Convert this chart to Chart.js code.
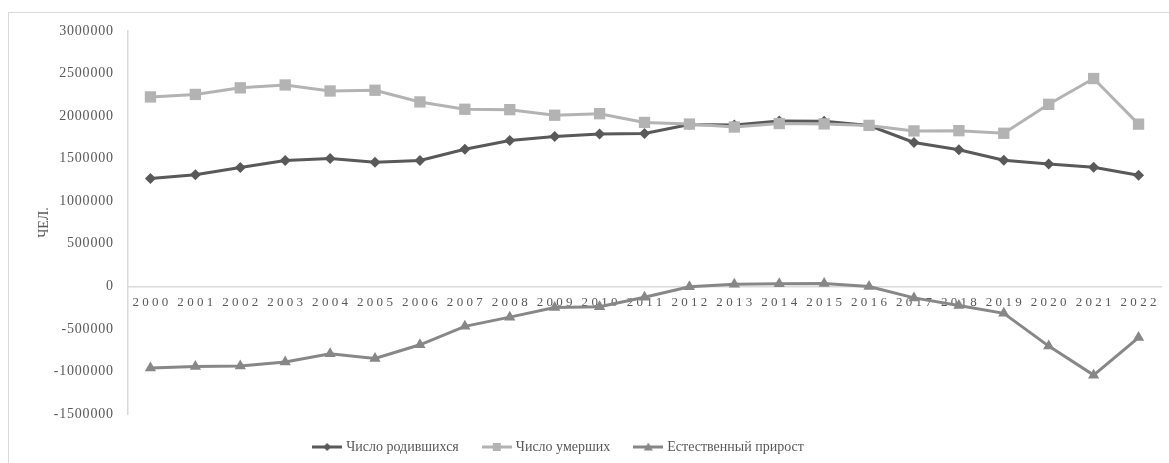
<!DOCTYPE html>
<html>
<head>
<meta charset="utf-8">
<script src="https://cdn.jsdelivr.net/npm/chart.js@4.4.1/dist/chart.umd.min.js"></script>
<style>
  html, body { margin: 0; padding: 0; background: #fff; }
  #wrap { position: relative; width: 1169px; height: 463px; overflow: hidden; }
  #frame { position: absolute; left: 8px; top: 12px; width: 1200px; height: 500px; border: 1px solid #d9d9d9; box-sizing: border-box; }
  #box { position: absolute; left: 0; top: 0; width: 1169px; height: 463px; }
</style>
</head>
<body>
<div id="wrap">
  <div id="frame"></div>
  <div id="box"><canvas id="demoChart"></canvas></div>
</div>
<script>
// Годы
const years = ['2000', '2001', '2002', '2003', '2004', '2005', '2006', '2007', '2008', '2009', '2010', '2011',
               '2012', '2013', '2014', '2015', '2016', '2017', '2018', '2019', '2020', '2021', '2022'];

// Число родившихся, чел.
const births = [1266800, 1311604, 1396967, 1477301, 1502477, 1457376, 1479637, 1610122, 1713947, 1761687, 1788948, 1796629,
                1902084, 1895822, 1942683, 1940579, 1888729, 1690307, 1604344, 1481074, 1436514, 1398253, 1304087];

// Число умерших, чел.
const deaths = [2225332, 2254856, 2332272, 2365826, 2295402, 2303935, 2166703, 2080445, 2075954, 2010543, 2028516, 1925720,
                1906335, 1871809, 1912347, 1908541, 1891015, 1826125, 1828910, 1798307, 2138586, 2441594, 1905800];

// Естественный прирост, чел.
const growth = [-958532, -943252, -935305, -888525, -792925, -846559, -687066, -470323, -362007, -248856, -239568, -129091,
                -4251, 24013, 30336, 32038, -2286, -135818, -224566, -317233, -702072, -1043341, -601713];

const yTicks = [-1500000, -1000000, -500000, 0, 500000, 1000000, 1500000, 2000000, 2500000, 3000000];

const FONT = "'Liberation Serif', 'Times New Roman', serif";
const TEXT = '#595959';

// small canvas used as a legend icon: a line with the marker in the middle
function legendIcon(color, shape) {
    const c = document.createElement('canvas');
    c.width = 30;
    c.height = 14;
    const g = c.getContext('2d');
    g.strokeStyle = color;
    g.fillStyle = color;
    g.lineWidth = 3;
    g.beginPath();
    g.moveTo(0, 7);
    g.lineTo(30, 7);
    g.stroke();
    g.beginPath();
    if (shape === 'diamond') {
        g.moveTo(15, 3); g.lineTo(19, 7); g.lineTo(15, 11); g.lineTo(11, 7);
    } else if (shape === 'square') {
        g.rect(11, 3, 8, 8);
    } else {
        g.moveTo(15, 2.5); g.lineTo(19.5, 10.5); g.lineTo(10.5, 10.5);
    }
    g.closePath();
    g.fill();
    return c;
}

const icons = [
    legendIcon('#595959', 'diamond'),
    legendIcon('#b3b3b3', 'square'),
    legendIcon('#878787', 'triangle')
];

// letter spacing for tick labels (the original is drawn with spread digits)
function spaceLabels(scale, spacing, shift) {
    if (scale._spaced) return;
    const orig = scale.drawLabels;
    scale.drawLabels = function (area) {
        const ctx = this.ctx;
        ctx.save();
        ctx.letterSpacing = spacing;
        ctx.translate(shift, 0);
        orig.call(this, area);
        ctx.restore();
    };
    scale._spaced = true;
}

const spacedTicks = {
    id: 'spacedTicks',
    beforeDraw(chart) {
        spaceLabels(chart.scales.x, '3.3px', 1.6);
        spaceLabels(chart.scales.y, '0.8px', 0.8);
        // legend in the original sits a bit left of centre
        if (!chart.legend._moved) {
            chart.legend.right -= 74;
            chart.legend._moved = true;
        }
    }
};

const ctx = document.getElementById('demoChart').getContext('2d');

new Chart(ctx, {
    type: 'line',
    data: {
        labels: years,
        datasets: [{
            label: 'Число родившихся',
            data: births,
            borderColor: '#595959',
            backgroundColor: '#595959',
            borderWidth: 3,
            pointStyle: 'rectRot',
            pointRadius: 5.5,
            pointBorderWidth: 0,
            order: 3
        }, {
            label: 'Число умерших',
            data: deaths,
            borderColor: '#b3b3b3',
            backgroundColor: '#b3b3b3',
            borderWidth: 3,
            pointStyle: 'rect',
            pointRadius: 8,
            pointBorderWidth: 0,
            order: 2
        }, {
            label: 'Естественный прирост',
            data: growth,
            borderColor: '#878787',
            backgroundColor: '#878787',
            borderWidth: 3,
            pointStyle: 'triangle',
            pointRadius: 6.5,
            pointBorderWidth: 0,
            order: 1
        }]
    },
    options: {
        responsive: true,
        maintainAspectRatio: false,
        animation: false,
        layout: {
            padding: { left: 32, right: 8, top: 31, bottom: -1 }
        },
        plugins: {
            tooltip: { enabled: false },
            legend: {
                position: 'bottom',
                labels: {
                    usePointStyle: true,
                    pointStyleWidth: 24,
                    padding: 26,
                    color: TEXT,
                    font: { family: FONT, size: 14, lineHeight: 1 },
                    generateLabels: chart => chart.data.datasets.map((ds, i) => ({
                        text: ds.label,
                        pointStyle: icons[i],
                        datasetIndex: i,
                        fillStyle: ds.borderColor,
                        strokeStyle: ds.borderColor,
                        lineWidth: 0,
                        hidden: false,
                        fontColor: TEXT
                    }))
                }
            }
        },
        scales: {
            x: {
                type: 'category',
                offset: true,
                position: { y: 0 },
                grid: { display: false, drawTicks: false, offset: true },
                border: { display: true, color: '#d9d9d9', width: 1.5 },
                ticks: {
                    color: TEXT,
                    font: { family: FONT, size: 13 },
                    padding: 8,
                    autoSkip: false,
                    maxRotation: 0,
                    minRotation: 0
                }
            },
            y: {
                min: -1500000,
                max: 3000000,
                afterBuildTicks: scale => {
                    scale.ticks = yTicks.map(v => ({ value: v }));
                },
                afterFit: scale => {
                    scale.width = 96;
                },
                grid: { display: false, drawTicks: false },
                border: { display: true, color: '#d9d9d9', width: 1.5 },
                title: {
                    display: true,
                    text: 'ЧЕЛ.',
                    color: TEXT,
                    font: { family: FONT, size: 14 },
                    padding: { top: 4, bottom: 4 }
                },
                ticks: {
                    color: TEXT,
                    font: { family: FONT, size: 14 },
                    padding: 15,
                    callback: v => String(v)
                }
            }
        }
    },
    plugins: [spacedTicks]
});
</script>
</body>
</html>
